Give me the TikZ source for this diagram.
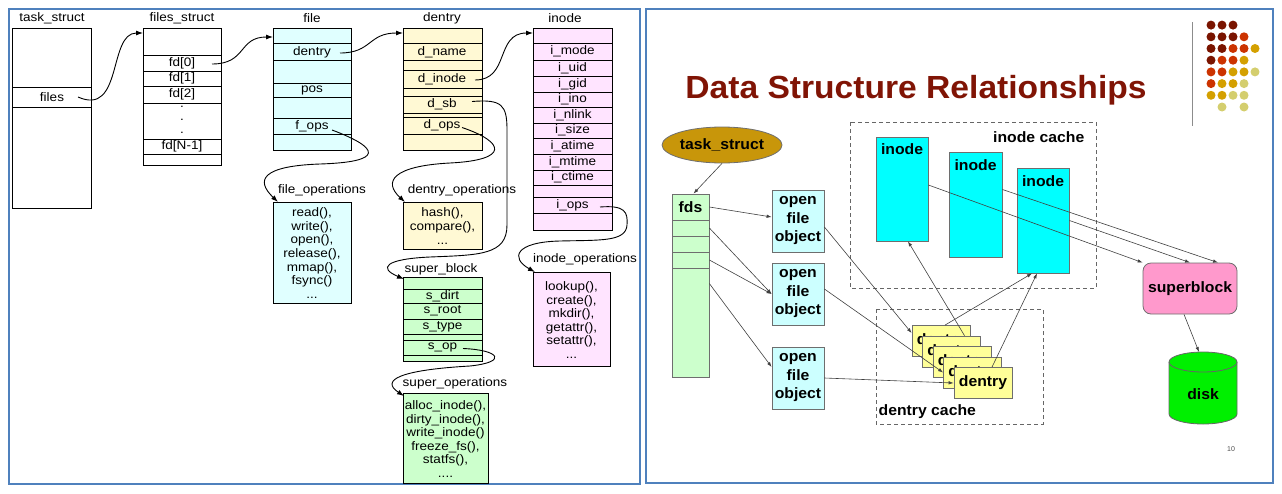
\documentclass[tikz,border=0pt]{standalone}
\usepackage{fontspec}
\setmainfont{Liberation Sans}
\newfontfamily\leftfont[FakeStretch=1.1]{Liberation Sans}
\newfontfamily\rightfont[FakeStretch=1.05]{Liberation Sans}
\usetikzlibrary{calc,shapes.geometric,arrows.meta}

\definecolor{framebl}{RGB}{79,129,189}
\definecolor{filecy}{RGB}{224,255,255}
\definecolor{dentyl}{RGB}{255,249,212}
\definecolor{inodepk}{RGB}{255,228,255}
\definecolor{supergr}{RGB}{204,255,204}
\definecolor{ofocy}{RGB}{204,255,255}
\definecolor{inodecy}{RGB}{0,255,255}
\definecolor{dentrybx}{RGB}{255,255,153}
\definecolor{taskgold}{RGB}{200,150,10}
\definecolor{sbpink}{RGB}{255,153,204}
\definecolor{diskgr}{RGB}{0,240,0}
\definecolor{titlered}{RGB}{128,20,5}
\definecolor{dotA}{RGB}{122,20,0}
\definecolor{dotB}{RGB}{204,51,0}
\definecolor{dotC}{RGB}{212,160,0}
\definecolor{dotD}{RGB}{212,206,110}
\definecolor{edgegr}{RGB}{110,110,110}

\tikzset{
  sbox/.style={draw, fill=#1, anchor=north west, inner sep=0pt, outer sep=0pt},
  fld/.style={font=\leftfont\fontsize{12.3}{13.6}\selectfont, inner sep=1pt},
  ptr/.style={line width=0.9pt, -{Latex[length=7pt,width=5pt]}},
  rtext/.style={font=\rightfont\bfseries\fontsize{15}{18.5}\selectfont},
  rbox/.style={draw=edgegr, fill=#1, line width=0.8pt, inner sep=0pt},
  link/.style={draw=black!75, line width=0.6pt, -{Latex[length=5pt,width=3.5pt]}},
  cache/.style={draw=black!60, dash pattern=on 4pt off 3pt, line width=0.8pt},
}

\begin{document}
\begin{tikzpicture}[x=1pt,y=-1pt,line width=0.8pt]
\useasboundingbox (0,0) rectangle (1282,493);
\draw[framebl, line width=2pt] (9,9) rectangle (640,484);
\draw[framebl, line width=2pt] (646,9) rectangle (1273,483);

%task_struct
\node[fld] (tasklbl) at (52,18) {task\_struct};
\node[sbox=white, minimum width=79pt, minimum height=180pt] (taskbox) at (12,28) {};
\foreach \y in {87,107} \draw (12,\y) -- (91,\y);
\node[fld] (files) at (52,97) {files};

%files_struct
\node[fld] (fslbl) at (182,18) {files\_struct};
\node[sbox=white, minimum width=78pt, minimum height=137pt] (fsbox) at (143,28) {};
\foreach \y in {55,71,86,103,139,154} \draw (143,\y) -- (221,\y);
\node[fld] (fdzero) at (182,63) {fd[0]};
\node[fld] (fdone) at (182,78.5) {fd[1]};
\node[fld] (fdtwo) at (182,94.5) {fd[2]};
\foreach \y [count=\i] in {107,120,133} \node[fld] (fddot\i) at (182,\y) {.};
\node[fld] (fdlast) at (182,146.5) {fd[N-1]};

%file
\node[fld] (filelbl) at (312,18) {file};
\node[sbox=filecy, minimum width=78pt, minimum height=122pt] (filebox) at (273,28) {};
\foreach \y in {43,60,83,97,118,134} \draw (273,\y) -- (351,\y);
\node[fld] (fdentry) at (312,52) {dentry};
\node[fld] (fpos) at (312,90) {pos};
\node[fld] (fops) at (312,126) {f\_ops};

%dentry
\node[fld] (dentlbl) at (442,18) {dentry};
\node[sbox=dentyl, minimum width=79pt, minimum height=122pt] (dentbox) at (403,28) {};
\foreach \y in {43,60,70,88,96,113,117,134} \draw (403,\y) -- (482,\y);
\node[fld] (dname) at (442,52) {d\_name};
\node[fld] (dinode) at (442,79) {d\_inode};
\node[fld] (dsb) at (442,104.5) {d\_sb};
\node[fld] (dops) at (442,125.5) {d\_ops};

%inode
\node[fld] (inodelbl) at (565,18) {inode};
\node[sbox=inodepk, minimum width=79pt, minimum height=202pt] (inodebox) at (533,28) {};
\foreach \y in {43,60,76,92,107,123,138,154,170,185,197,213} \draw (533,\y) -- (612,\y);
\foreach \fname/\y in {mode/51.5,uid/68,gid/84,ino/99.5,nlink/115,size/130.5,atime/146,mtime/162,ctime/177.5}
  \node[fld] (i\fname) at (572.5,\y) {i\_\fname};
\node[fld] (iops) at (572.5,205) {i\_ops};

%operations and super_block
\node[fld] (foplbl) at (322,190) {file\_operations};
\node[sbox=filecy, minimum width=78pt, minimum height=101pt] (fopbox) at (273,202) {};
\node[fld, align=center] (foptxt) at (312,253) {read(),\\write(),\\open(),\\release(),\\mmap(),\\fsync()\\...};

\node[fld] (doplbl) at (462,190) {dentry\_operations};
\node[sbox=dentyl, minimum width=79pt, minimum height=47pt] (dopbox) at (403,202) {};
\node[fld, align=center] (doptxt) at (442.5,226) {hash(),\\compare(),\\...};

\node[fld] (sblbl) at (441,269) {super\_block};
\node[sbox=supergr, minimum width=79pt, minimum height=84pt] (sbbox) at (403,277) {};
\foreach \y in {289,303,319,334,340,355} \draw (403,\y) -- (482,\y);
\node[fld] (sdirt) at (442.5,296) {s\_dirt};
\node[fld] (sroot) at (442.5,311) {s\_root};
\node[fld] (stype) at (442.5,326.5) {s\_type};
\node[fld] (sop) at (442.5,347.5) {s\_op};

\node[fld] (soplbl) at (455,383) {super\_operations};
\node[sbox=supergr, minimum width=85pt, minimum height=90pt] (sopbox) at (403,393) {};
\node[fld, align=center] (soptxt) at (445.5,439) {alloc\_inode(),\\dirty\_inode(),\\write\_inode()\\freeze\_fs(),\\statfs(),\\....};

\node[fld] (ioplbl) at (585,259) {inode\_operations};
\node[sbox=inodepk, minimum width=77pt, minimum height=94pt] (iopbox) at (533,272) {};
\node[fld, align=center] (ioptxt) at (571.5,320) {lookup(),\\create(),\\mkdir(),\\getattr(),\\setattr(),\\...};

%pointers
\draw[ptr] ($(files.east -| taskbox.east)+(-13,0)$) .. controls +(45,20) and +(-35,0) .. ([yshift=-5pt]fsbox.north west);
\draw[ptr] ($(fdzero.east -| fsbox.east)+(-9,1)$) .. controls +(35,0) and +(-35,0) .. ([yshift=-9pt]filebox.north west);
\draw[ptr] ($(fdentry.east -| filebox.east)+(-11,1)$) .. controls +(32,0) and +(-35,0) .. ([yshift=-5pt]dentbox.north west);
\draw[ptr] ($(dinode.east -| dentbox.east)+(-7,1)$) .. controls +(35,0) and +(-38,0) .. ([yshift=-5pt]inodebox.north west);
\draw[ptr] ($(fops.east -| filebox.east)+(-19,4)$) .. controls (380,148) and (385,162) .. (320,164) .. controls (262,166) and (255,180) .. ([xshift=5pt]fopbox.north west);
\draw[ptr] ($(dops.east -| dentbox.east)+(-20,2)$) .. controls (505,142) and (510,160) .. (450,163) .. controls (392,166) and (383,182) .. ([xshift=2pt]dopbox.north west);
\draw[ptr] ($(dsb.east -| dentbox.east)+(-10,-3)$) .. controls (502,99) and (507,105) .. (507,130) -- (507,225) .. controls (507,255) and (480,255) .. (430,257) .. controls (385,259) and (378,268) .. ([xshift=1pt,yshift=-2pt]sbbox.north west);
\draw[ptr] ($(iops.east -| inodebox.east)+(-12,2)$) .. controls (625,205) and (628,212) .. (627,225) .. controls (626,242) and (600,240) .. (560,241) .. controls (515,242) and (510,258) .. ([xshift=2pt]iopbox.north west);
\draw[ptr] ($(sop.east -| sbbox.east)+(-19,1)$) .. controls (500,350) and (508,362) .. (470,366) .. controls (400,370) and (380,380) .. ([xshift=1pt,yshift=-3pt]sopbox.north west);

%right slide
\node[font=\rightfont\bfseries\fontsize{32}{36}\selectfont, text=titlered] (title) at (916,90) {Data Structure Relationships};
\draw[black!45, line width=1pt] (1192,22) -- (1192,126);
\foreach \c/\r/\col in {1/1/dotA,2/1/dotA,3/1/dotA,1/2/dotA,2/2/dotA,3/2/dotA,4/2/dotB,
  1/3/dotA,2/3/dotA,3/3/dotB,4/3/dotB,5/3/dotC,1/4/dotA,2/4/dotB,3/4/dotB,4/4/dotC,
  1/5/dotB,2/5/dotB,3/5/dotC,4/5/dotC,5/5/dotD,1/6/dotB,2/6/dotC,3/6/dotC,4/6/dotD,
  1/7/dotC,2/7/dotC,3/7/dotD,4/7/dotD,2/8/dotD,4/8/dotD}
  \fill[\col] ({1200+11*\c},{13.4+11.7*\r}) circle (4.5pt);

\draw[cache] (850,122) rectangle (1096,288);
\node[rtext, anchor=east] (icachelbl) at (1088,137) {inode cache};
\draw[cache] (876,309) rectangle (1043,424);
\node[rtext, anchor=west] (dcachelbl) at (875,412) {dentry cache};

\node[ellipse, draw=edgegr, fill=taskgold, minimum width=120pt, minimum height=36pt, inner sep=0pt, rtext] (task) at (722,145) {task\_struct};

\node[rbox=supergr, minimum width=37pt, minimum height=26pt, rtext] (fds) at (690.5,207) {fds};
\node[rbox=supergr, minimum width=37pt, minimum height=16pt] (fdA) at (690.5,228) {};
\node[rbox=supergr, minimum width=37pt, minimum height=16pt] (fdB) at (690.5,244) {};
\node[rbox=supergr, minimum width=37pt, minimum height=16pt] (fdC) at (690.5,260) {};
\node[rbox=supergr, minimum width=37pt, minimum height=109pt] (fdrest) at (690.5,322.5) {};

\foreach \n/\y in {ofoA/221,ofoB/294,ofoC/378}
  \node[rbox=ofocy, minimum width=52pt, minimum height=62pt, rtext, align=center] (\n) at (798,\y) {open\\file\\object};

\node[rbox=inodecy, minimum width=52pt, minimum height=104pt] (inodeA) at (902,189) {};
\node[rtext] (inodeAtxt) at (902,149) {inode};
\node[rbox=inodecy, minimum width=53pt, minimum height=105pt] (inodeB) at (975.5,204.5) {};
\node[rtext] (inodeBtxt) at (975.5,165) {inode};
\node[rbox=inodecy, minimum width=52pt, minimum height=105pt] (inodeC) at (1043,220.5) {};
\node[rtext] (inodeCtxt) at (1043,181) {inode};

\foreach \n/\x/\y in {dentA/941/341,dentB/951.5/351.5,dentC/962/362,dentD/972.5/372.5,dentE/983/383}
  \node[rbox=dentrybx, minimum width=58pt, minimum height=31pt, rtext] (\n) at (\x,\y) {dentry};

\node[rbox=sbpink, rounded corners=8pt, minimum width=94pt, minimum height=51pt, rtext] (sblock) at (1190,288.5) {superblock};

%disk
\draw[draw=black!60, fill=diskgr] (1169,362) -- (1169,414) arc[start angle=180, end angle=360, x radius=34pt, y radius=10pt]
  -- (1237,362) arc[start angle=0, end angle=180, x radius=34pt, y radius=10pt] -- cycle;
\draw[black!60] (1169,362) arc[start angle=180, end angle=360, x radius=34pt, y radius=10pt];
\coordinate (disktop) at (1199,352);
\node[rtext] (disk) at (1203,394) {disk};

\node[font=\fontsize{7}{8}\selectfont, text=black!70] (pgnum) at (1231,449) {10};

%links
\draw[link] (task.south) -- ([xshift=3pt]fds.north);
\draw[link] (fds.east) -- ([yshift=4pt]ofoA.west);
\draw[link] (fdA.east) -- (ofoB.west);
\draw[link] (fdC.east) -- (ofoB.west);
\draw[link] ([yshift=-16pt]fdrest.north east) -- ([yshift=11pt]ofoC.west);
\draw[link] ([yshift=-6pt]ofoA.east) -- ([yshift=8pt]dentA.west);
\draw[link] ([yshift=5pt]ofoB.east) -- (dentD.west);
\draw[link] (ofoC.east) -- (dentE.west);
\draw[link] ([xshift=4pt]dentA.north) -- ([xshift=-11pt]inodeC.south);
\draw[link] ([xshift=9pt]dentE.north) -- ([xshift=-6pt]inodeC.south);
\draw[link] ([xshift=13pt]dentB.north) -- ([xshift=6pt]inodeA.south);
\draw[link] ([yshift=4pt]inodeA.east) -- (sblock.north west);
\draw[link] ([yshift=15pt]inodeB.east) -- ([xshift=28pt]sblock.north);
\draw[link] (inodeC.east) -- (sblock.north);
\draw[link] ([xshift=-6pt]sblock.south) -- (disktop);
\end{tikzpicture}
\end{document}
